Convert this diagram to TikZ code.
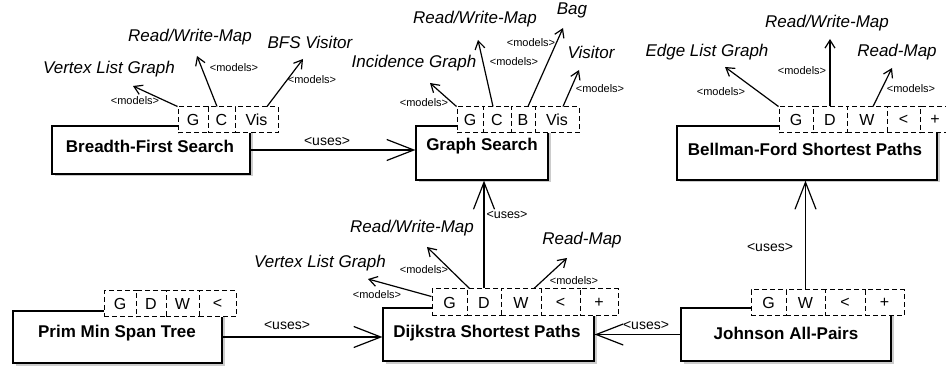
\documentclass[tikz,border=0pt]{standalone}
\usepackage{fontspec}
\setmainfont{Liberation Sans}
\usetikzlibrary{arrows.meta,shadows,calc}
\begin{document}
\begin{tikzpicture}[x=1pt,y=-1pt,
  box/.style={draw,line width=1.2pt,fill=white,inner sep=0pt,
    drop shadow={shadow xshift=2.5pt,shadow yshift=-2.5pt,fill=black!40}},
  title/.style={font=\fontsize{17}{20}\selectfont\bfseries,inner sep=0pt},
  param/.style={draw,line width=1pt,dash pattern=on 5pt off 3pt,fill=white,inner sep=0pt,
    font=\fontsize{16}{18}\selectfont},
  concept/.style={font=\fontsize{17}{20}\selectfont\itshape,inner sep=0pt},
  mlabel/.style={font=\fontsize{11}{13}\selectfont,inner sep=0pt},
  ulabel/.style={font=\fontsize{14}{16}\selectfont,inner sep=0pt},
  models/.style={line width=1.2pt,-{Straight Barb[length=8pt,width=10pt,line width=1.2pt]}},
  uses/.style={line width=1.2pt,-{Straight Barb[length=27pt,width=21pt,line width=1.2pt]}}
]
\useasboundingbox (0,0) rectangle (946,366);

% main boxes
\node[box,minimum width=198pt,minimum height=48pt] (bfs) at (151,150) {};
\node[title] (bfst) at (150,146) {Breadth-First Search};
\node[box,minimum width=132pt,minimum height=54pt] (gs) at (482,153) {};
\node[title] (gst) at (482,146) {Graph Search};
\node[box,minimum width=260pt,minimum height=54pt] (bf) at (807,153) {};
\node[title] (bft) at (805,149) {Bellman-Ford Shortest Paths};
\node[box,minimum width=209pt,minimum height=52pt] (prim) at (117.5,337) {};
\node[title] (primt) at (117,333) {Prim Min Span Tree};
\node[box,minimum width=211pt,minimum height=53pt] (dij) at (488.5,334.5) {};
\node[title] (dijt) at (487,333) {Dijkstra Shortest Paths};
\node[box,minimum width=210pt,minimum height=53pt] (john) at (786,334.5) {};
\node[title] (johnt) at (786,333) {Johnson All-Pairs};

% parameter boxes
\node[param,minimum width=30pt,minimum height=26pt] (bG) at (193,120) {G};
\node[param,minimum width=27pt,minimum height=26pt] (bC) at (221.5,120) {C};
\node[param,minimum width=43pt,minimum height=26pt] (bV) at (256.5,120) {Vis};

\node[param,minimum width=26pt,minimum height=26pt] (gG) at (470,120) {G};
\node[param,minimum width=28pt,minimum height=26pt] (gC) at (497,120) {C};
\node[param,minimum width=24pt,minimum height=26pt] (gB) at (523,120) {B};
\node[param,minimum width=44pt,minimum height=26pt] (gV) at (557,120) {Vis};

\node[param,minimum width=34pt,minimum height=26pt] (fG) at (796,120) {G};
\node[param,minimum width=34pt,minimum height=26pt] (fD) at (830,120) {D};
\node[param,minimum width=40pt,minimum height=26pt] (fW) at (867,120) {W};
\node[param,minimum width=33pt,minimum height=26pt] (fL) at (903.5,120) {<};
\node[param,minimum width=30pt,minimum height=26pt] (fP) at (935,120) {+};

\node[param,minimum width=32pt,minimum height=26pt] (pG) at (120,304) {G};
\node[param,minimum width=30pt,minimum height=26pt] (pD) at (151,304) {D};
\node[param,minimum width=33pt,minimum height=26pt] (pW) at (182.5,304) {W};
\node[param,minimum width=37pt,minimum height=26pt] (pL) at (217.5,304) {<};

\node[param,minimum width=35pt,minimum height=27pt] (dG) at (449.5,302.5) {G};
\node[param,minimum width=34pt,minimum height=27pt] (dD) at (484,302.5) {D};
\node[param,minimum width=40pt,minimum height=27pt] (dW) at (521,302.5) {W};
\node[param,minimum width=39pt,minimum height=27pt] (dL) at (560.5,302.5) {<};
\node[param,minimum width=38pt,minimum height=27pt] (dP) at (599,302.5) {+};

\node[param,minimum width=35pt,minimum height=26pt] (jG) at (768.5,303) {G};
\node[param,minimum width=39pt,minimum height=26pt] (jW) at (805.5,303) {W};
\node[param,minimum width=40pt,minimum height=26pt] (jL) at (845,303) {<};
\node[param,minimum width=39pt,minimum height=26pt] (jP) at (884.5,303) {+};

% concept labels
\node[concept] (c1) at (109,69) {Vertex List Graph};
\node[concept] (c2) at (190,37) {Read/Write-Map};
\node[concept] (c3) at (310,42) {BFS Visitor};
\node[concept] (c4) at (414,63) {Incidence Graph};
\node[concept] (c5) at (475,19) {Read/Write-Map};
\node[concept] (c6) at (572,10) {Bag};
\node[concept] (c7) at (591,52) {Visitor};
\node[concept] (c8) at (707,52) {Edge List Graph};
\node[concept] (c9) at (827,23) {Read/Write-Map};
\node[concept] (c10) at (897,52) {Read-Map};
\node[concept] (c11) at (320,263) {Vertex List Graph};
\node[concept] (c12) at (412,228) {Read/Write-Map};
\node[concept] (c13) at (582,240) {Read-Map};

% arrow ends
\coordinate (bGe) at (133,86);
\coordinate (bCe) at (197,56);
\coordinate (bVe) at (303,59);
\coordinate (gGe) at (430,83);
\coordinate (gCe) at (478,40);
\coordinate (gBe) at (563,28);
\coordinate (gVe) at (579,70);
\coordinate (fGe) at (725,67);
\coordinate (fDe) at (830,39);
\coordinate (fWe) at (892,68);
\coordinate (dGe) at (368,279);
\coordinate (dDe) at (427,247);
\coordinate (dWe) at (567,258);

% models arrows
\draw[models] (bG.north west) -- (bGe);
\draw[models] ($(bC.north)+(-4.5,0)$) -- (bCe);
\draw[models] ($(bV.north)+(10.5,0)$) -- (bVe);
\draw[models] (gG.north west) -- (gGe);
\draw[models] ($(gC.north)+(-4,0)$) -- (gCe);
\draw[models] ($(gB.north)+(5,0)$) -- (gBe);
\draw[models] ($(gV.north)+(6,0)$) -- (gVe);
\draw[models] (fG.north west) -- (fGe);
\draw[models] (fD.north) -- (fDe);
\draw[models] ($(fW.north)+(6,0)$) -- (fWe);
\draw[models] ($(dG.north west)+(0,8)$) -- (dGe);
\draw[models] ($(dD.north west)+(3,0)$) -- (dDe);
\draw[models] ($(dW.north)+(13,0)$) -- (dWe);

% models labels
\node[mlabel] (m1) at (135,101) {<models>};
\node[mlabel] (m2) at (234,68) {<models>};
\node[mlabel] (m3) at (312,80) {<models>};
\node[mlabel] (m4) at (424,103) {<models>};
\node[mlabel] (m5) at (514,62) {<models>};
\node[mlabel] (m6) at (531,43) {<models>};
\node[mlabel] (m7) at (600,89) {<models>};
\node[mlabel] (m8) at (721,92) {<models>};
\node[mlabel] (m9) at (802,71) {<models>};
\node[mlabel] (m10) at (911,89) {<models>};
\node[mlabel] (m11) at (377,295) {<models>};
\node[mlabel] (m12) at (424,270) {<models>};
\node[mlabel] (m13) at (574,281) {<models>};

% uses arrows
\draw[uses] (bfs.east) -- (gs.west |- bfs.east);
\draw[uses] (prim.east) -- (dij.west |- prim.east);
\draw[uses] (john.west) -- (dij.east |- john.west);
\draw[uses] (dD.north) -- (gs.south -| dD.north);
\draw[uses] (jW.north) -- (bf.south -| jW.north);

\node[ulabel] (u1) at (327,141) {<uses>};
\node[ulabel] (u2) at (287,325) {<uses>};
\node[ulabel] (u3) at (646,325) {<uses>};
\node[ulabel,font=\fontsize{12.5}{14}\selectfont] (u4) at (507,215) {<uses>};
\node[ulabel] (u5) at (770,247) {<uses>};
\end{tikzpicture}
\end{document}
